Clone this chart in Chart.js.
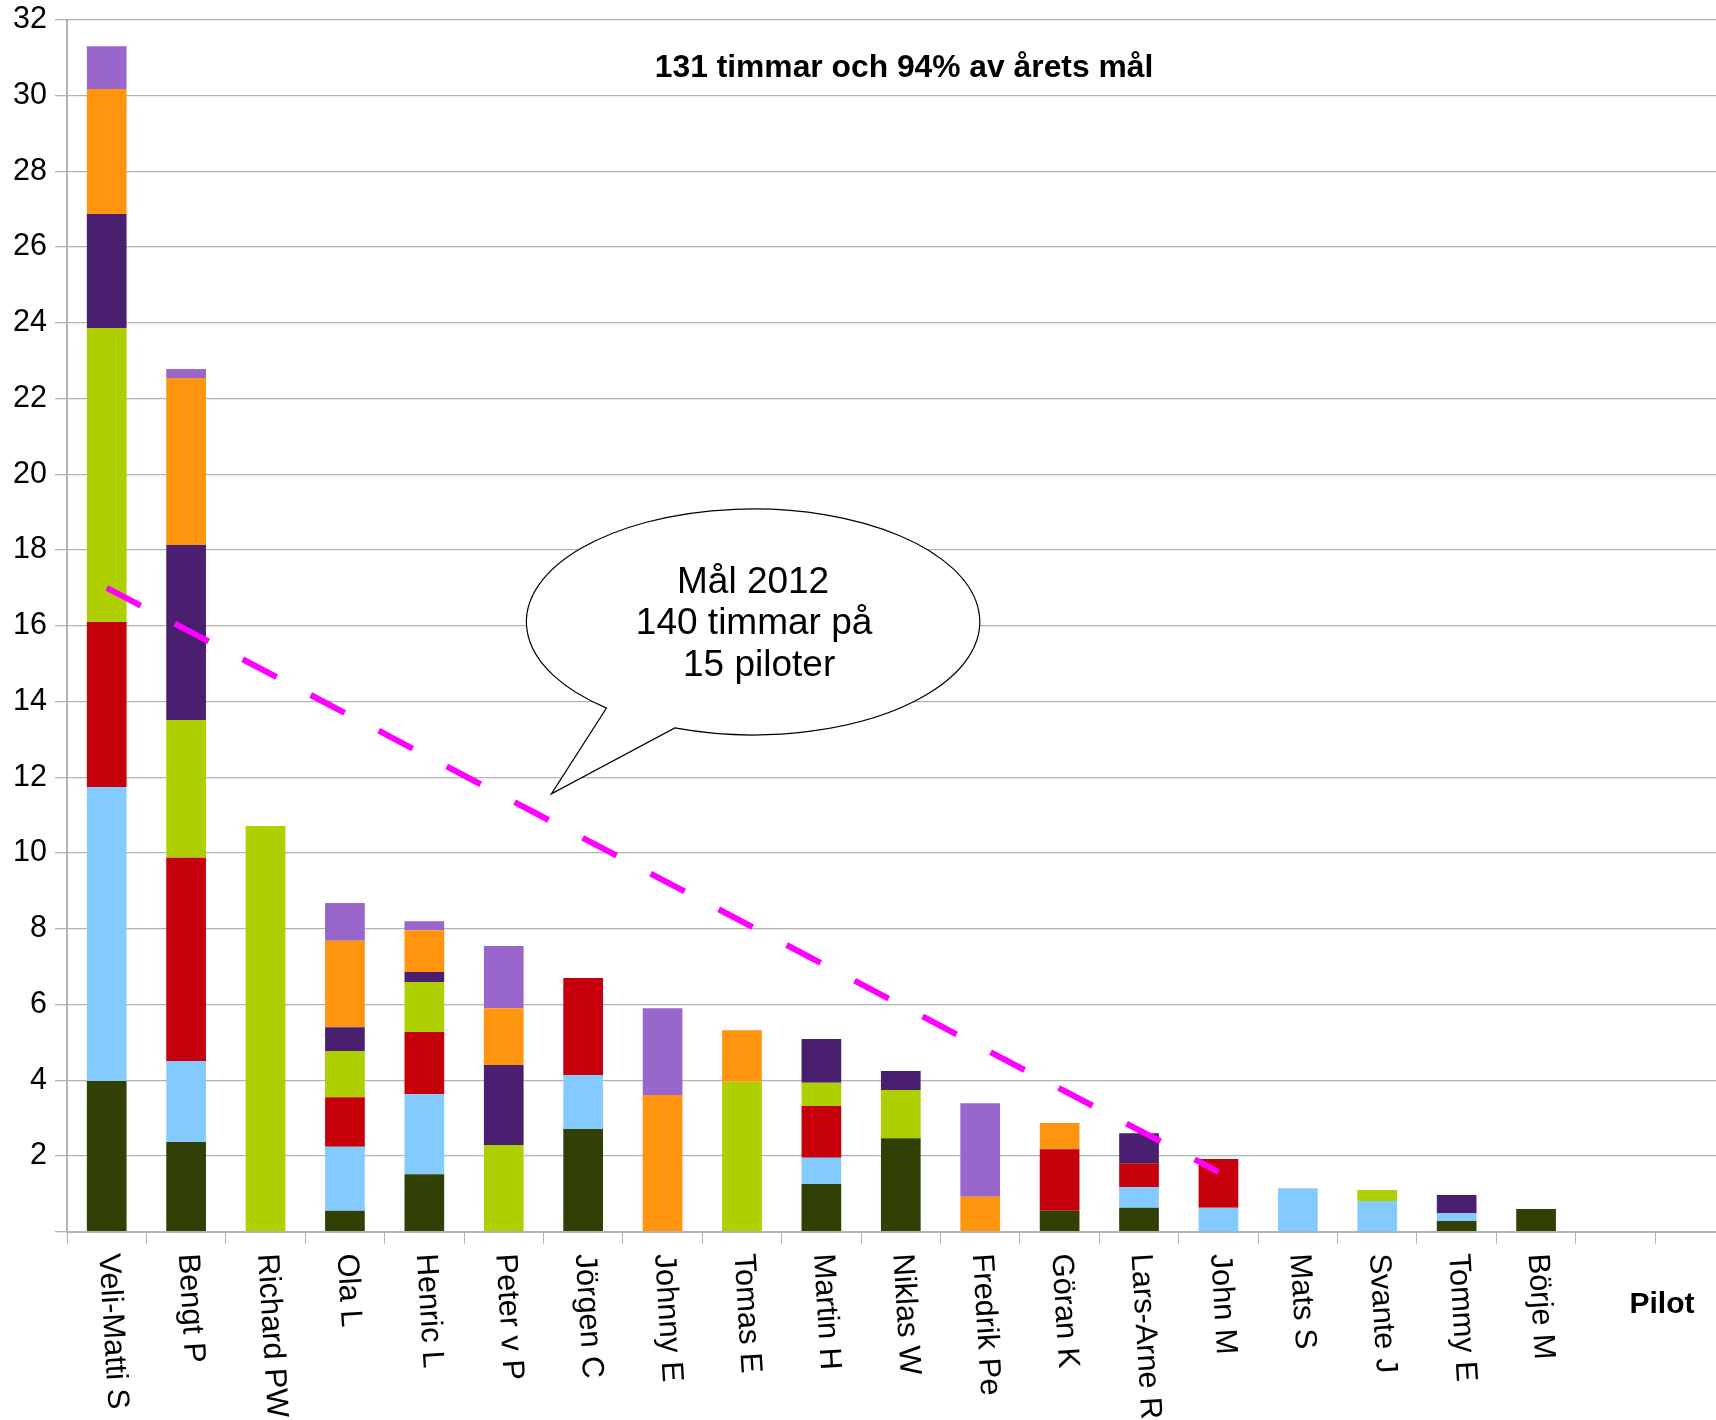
<!DOCTYPE html>
<html>
<head>
<meta charset="utf-8">
<script src="https://cdn.jsdelivr.net/npm/chart.js@4.4.1/dist/chart.umd.min.js"></script>
<style>
  html, body { margin: 0; padding: 0; background: #fff; overflow: hidden; }
  #wrap { width: 1716px; height: 1420px; overflow: hidden; }
</style>
</head>
<body>
<div id="wrap"><canvas id="pilotChart" width="1814" height="1420"></canvas></div>
<script>
Chart.defaults.font.family = '"Liberation Sans", Arial, sans-serif'
Chart.defaults.color = '#000'

const pilots = ['Veli-Matti S', 'Bengt P', 'Richard PW', 'Ola L', 'Henric L', 'Peter v P', 'Jörgen C', 'Johnny E', 'Tomas E', 'Martin H', 'Niklas W', 'Fredrik Pe', 'Göran K', 'Lars-Arne R', 'John M', 'Mats S', 'Svante J', 'Tommy E', 'Börje M']
const emptySlots = ['', '', '']

// timmar per pilot, one array per colour in the stack (bottom to top)
const serie1 = [3.98, 2.37, null, 0.55, 1.52, null, 2.71, null, null, 1.26, 2.47, null, 0.55, 0.63, null, null, null, 0.28, 0.60]
const serie2 = [7.76, 2.14, null, 1.69, 2.11, null, 1.43, null, null, 0.69, null, null, null, 0.55, 0.63, 1.15, 0.81, 0.21, null]
const serie3 = [4.36, 5.36, null, 1.31, 1.64, null, 2.56, null, null, 1.37, null, null, 1.63, 0.63, 1.29, null, null, null, null]
const serie4 = [7.76, 3.64, 10.71, 1.22, 1.32, 2.29, null, null, 3.96, 0.61, 1.27, null, null, null, null, null, 0.29, null, null]
const serie5 = [3.01, 4.62, null, 0.63, 0.27, 2.11, null, null, null, 1.16, 0.50, null, null, 0.79, null, null, null, 0.48, null]
const serie6 = [3.30, 4.41, null, 2.28, 1.10, 1.50, null, 3.61, 1.36, null, null, 0.92, 0.69, null, null, null, null, null, null]
const serie7 = [1.13, 0.24, null, 1.00, 0.24, 1.64, null, 2.29, null, null, null, 2.47, null, null, null, null, null, null, null]

// target line, endpoints only
const goalLine = [17.0, null, null, null, null, null, null, null, null, null, null, null, null, null, 1.58]

const yTicks = [0, 32, 2]

const colors = ['#314004', '#83caff', '#c5000b', '#aecf00', '#4b1f6f', '#ff950e', '#9966cc']
const series = [serie1, serie2, serie3, serie4, serie5, serie6, serie7]

const barSets = series.map((s, i) => ({
    type: 'bar',
    label: 'Serie ' + (i + 1),
    data: s,
    backgroundColor: colors[i],
    borderWidth: 0,
    stack: 'timmar',
    barPercentage: 0.5,
    categoryPercentage: 1,
    order: 1
}))

const goalSet = {
    type: 'line',
    label: 'Mål',
    data: goalLine,
    borderColor: '#ff00ff',
    borderWidth: 6,
    borderDash: [38.4, 38.4],
    borderCapStyle: 'butt',
    pointRadius: 0,
    spanGaps: true,
    fill: false,
    stack: 'mal',
    order: 0
}

const extras = {
    id: 'extras',
    afterDraw(chart) {
        const ctx = chart.ctx
        const xs = chart.scales.x
        const ys = chart.scales.y
        const area = chart.chartArea

        // rotated pilot names
        ctx.save()
        ctx.fillStyle = '#000'
        ctx.font = '30.8px "Liberation Sans", Arial, sans-serif'
        ctx.textAlign = 'left'
        ctx.textBaseline = 'middle'
        pilots.forEach((name, i) => {
            ctx.save()
            ctx.translate(xs.getPixelForValue(i) + 1, area.bottom + 22)
            ctx.rotate(86.5 * Math.PI / 180)
            ctx.fillText(name, 0, 0)
            ctx.restore()
        })

        // axis title
        ctx.font = 'bold 30px "Liberation Sans", Arial, sans-serif'
        ctx.textAlign = 'center'
        ctx.textBaseline = 'alphabetic'
        ctx.fillText('Pilot', 1662, 1313)

        // heading
        ctx.font = 'bold 31.8px "Liberation Sans", Arial, sans-serif'
        ctx.fillText('131 timmar och 94% av årets mål', 904, 77)

        // speech bubble
        const cx = xs.getPixelForValue(8.14), cy = ys.getPixelForValue(16.1)
        const rx = 226.7, ry = 113
        const a1 = 130.3 * Math.PI / 180, a2 = 110.2 * Math.PI / 180
        const tipX = xs.getPixelForValue(5.6), tipY = ys.getPixelForValue(11.56)
        ctx.beginPath()
        ctx.ellipse(cx, cy, rx, ry, 0, a1, a2 + 2 * Math.PI)
        ctx.lineTo(tipX, tipY)
        ctx.closePath()
        ctx.fillStyle = '#fff'
        ctx.fill()
        ctx.lineWidth = 1.2
        ctx.strokeStyle = '#000'
        ctx.stroke()

        ctx.fillStyle = '#000'
        ctx.font = '37px "Liberation Sans", Arial, sans-serif'
        ctx.fillText('Mål 2012', cx, cy - 29)
        ctx.fillText('140 timmar på', cx + 1, cy + 12.5)
        ctx.fillText('15 piloter', cx + 6, cy + 54.5)
        ctx.restore()
    }
}

new Chart('pilotChart', {
    type: 'bar',
    data: {
        labels: pilots.concat(emptySlots),
        datasets: [...barSets, goalSet]
    },
    options: {
        responsive: false,
        animation: false,
        layout: { padding: { left: 0, right: 0, top: 0, bottom: 0 } },
        plugins: {
            legend: { display: false },
            tooltip: { enabled: false },
            title: { display: false }
        },
        scales: {
            x: {
                stacked: true,
                offset: true,
                ticks: { display: false },
                grid: { display: true, drawOnChartArea: false, drawTicks: true, tickLength: 12, color: '#b3b3b3', offset: true },
                border: { color: '#b3b3b3', width: 2 },
                afterFit: s => { s.height = 188.3 }
            },
            y: {
                stacked: true,
                min: yTicks[0],
                max: yTicks[1],
                ticks: {
                    stepSize: yTicks[2],
                    font: { size: 30.5 },
                    padding: 8,
                    callback: v => v === 0 ? '' : v
                },
                grid: { color: '#b3b3b3', lineWidth: 1.3, tickLength: 12 },
                border: { color: '#b3b3b3', width: 2 },
                afterFit: s => {
                    s.width = 67
                    s.paddingTop = 19.7
                    s.paddingBottom = 0
                }
            }
        }
    },
    plugins: [extras]
})
</script>
</body>
</html>
